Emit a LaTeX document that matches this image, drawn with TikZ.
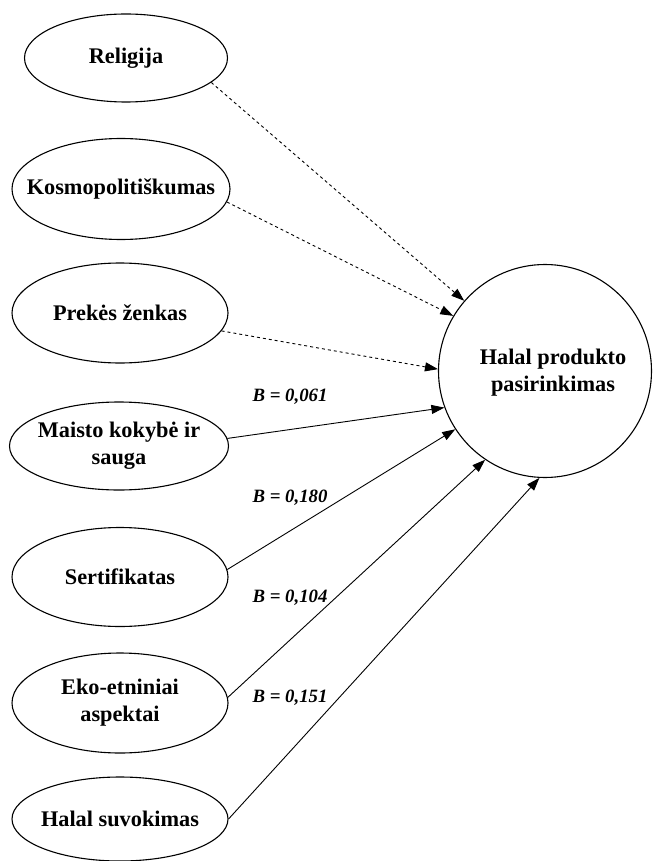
\documentclass[tikz,border=0pt]{standalone}
\usepackage{fontspec}
\setmainfont{Liberation Serif}
\usetikzlibrary{shapes.geometric,arrows.meta}
\begin{document}
\begin{tikzpicture}[x=1pt,y=-1pt,
  factor/.style={draw=black,line width=1.1pt,ellipse,inner sep=0pt},
  name text/.style={inner sep=0pt,align=center,
    font=\fontsize{22.3}{27}\selectfont\bfseries},
  target/.style={draw=black,line width=1.1pt,circle,inner sep=0pt,minimum size=213pt},
  coef/.style={inner sep=0pt,font=\fontsize{18.8}{22}\selectfont\bfseries\itshape},
  link/.style={line width=0.9pt,-{Triangle[length=13pt,width=9pt]}},
  weak/.style={link,dash pattern=on 3pt off 3pt}]
\useasboundingbox (0,0) rectangle (653,861);
\node[target] (c) at (545,371) {};
\node[name text] (ct) at (553,373) {Halal produkto\\pasirinkimas};
\node[factor,minimum width=203pt,minimum height=88pt] (r) at (126,58) {};
\node[factor,minimum width=218pt,minimum height=101pt] (k) at (121,189) {};
\node[factor,minimum width=216pt,minimum height=100pt] (p) at (120,313) {};
\node[factor,minimum width=219pt,minimum height=88pt] (m) at (119,446) {};
\node[factor,minimum width=216pt,minimum height=99pt] (s) at (120,577) {};
\node[factor,minimum width=216pt,minimum height=100pt] (e) at (120,703) {};
\node[factor,minimum width=216pt,minimum height=84pt] (h) at (120,819) {};
\node[name text] (rt) at (r) {Religija};
\node[name text] (kt) at (k) {Kosmopolitiškumas};
\node[name text] (pt) at (p) {Prekės ženkas};
\node[name text] (mt) at (m) {Maisto kokybė ir\\sauga};
\node[name text] (st) at (s) {Sertifikatas};
\node[name text] (et) at (e) {Eko-etniniai\\aspektai};
\node[name text] (ht) at (h) {Halal suvokimas};
\draw[weak] (r.-16.6) -- (c.139.1);
\draw[weak] (k.-7.3) -- (c.149.6);
\draw[weak] (p.-10.6) -- (c.179.5);
\draw[link] (m.4.8) -- (c.200.3);
\draw[link] (s.4.9) -- (c.213.8);
\draw[link] (e.3.2) -- (c.236.9);
\draw[link] (h.0.5) -- (c.267.3);
\node[coef] (b1) at (290,397) {B = 0,061};
\node[coef] (b2) at (290,498) {B = 0,180};
\node[coef] (b3) at (290,598) {B = 0,104};
\node[coef] (b4) at (290,698) {B = 0,151};
\end{tikzpicture}
\end{document}
